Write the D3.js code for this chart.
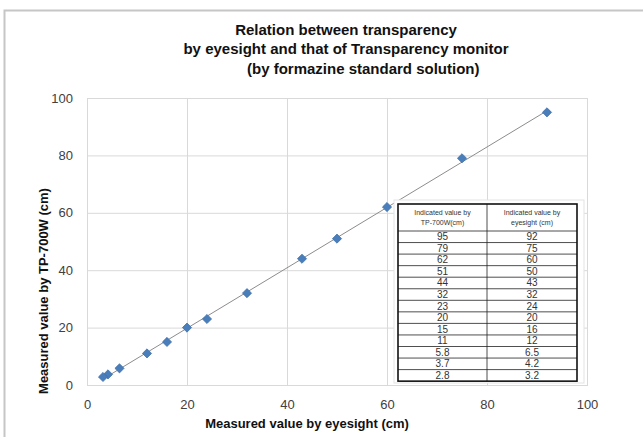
<!DOCTYPE html>
<html>
<head>
<meta charset="utf-8">
<script src="https://cdn.jsdelivr.net/npm/d3@7"></script>
<style>
  body { margin: 0; background: #fff; }
  text { font-family: "Liberation Sans", Arial, sans-serif; }
</style>
</head>
<body>
<svg id="chart"></svg>
<script>
// values
const tpValues = [95, 79, 62, 51, 44, 32, 23, 20, 15, 11, 5.8, 3.7, 2.8];
const eyeValues = [92, 75, 60, 50, 43, 32, 24, 20, 16, 12, 6.5, 4.2, 3.2];
const xTicks = [0, 20, 40, 60, 80, 100];
const yTicks = [0, 20, 40, 60, 80, 100];
const titleLines = ["Relation between transparency", "by eyesight and that of Transparency monitor", "(by formazine standard solution)"];
const tableHeaders = [["Indicated value by", "TP-700W(cm)"], ["Indicated value by", "eyesight (cm)"]];

let svg = d3.select("#chart").attr("width", 643).attr("height", 437);

// outer chart frame
svg.append("rect")
    .attr("x", 4.5).attr("y", 10.5).attr("width", 700).attr("height", 500)
    .attr("fill", "#fff").attr("stroke", "#c6c6c6").attr("stroke-width", 2);

let margin = {top: 98, right: 56, bottom: 52, left: 87},
    width = 643 - margin.left - margin.right,
    height = 437 - margin.top - margin.bottom,
    g = svg.append("g").attr("transform", "translate(" + margin.left + "," + margin.top + ")");

let x = d3.scaleLinear().domain([0, 100]).range([0, width]);
let y = d3.scaleLinear().domain([0, 100]).range([height, 0]);

// grid
g.append("g").selectAll("line").data(xTicks).join("line")
    .attr("x1", d => x(d) + 0.5).attr("x2", d => x(d) + 0.5)
    .attr("y1", 0).attr("y2", height)
    .attr("stroke", "#d9d9d9");
g.append("g").selectAll("line").data(yTicks).join("line")
    .attr("y1", d => y(d) + 0.5).attr("y2", d => y(d) + 0.5)
    .attr("x1", 0).attr("x2", width)
    .attr("stroke", "#d9d9d9");
g.append("rect").attr("x", 0.5).attr("y", 0.5).attr("width", width).attr("height", height)
    .attr("fill", "none").attr("stroke", "#d9d9d9");

// axes labels
let xAxis = g.append("g")
    .attr("transform", "translate(0," + height + ")")
    .call(d3.axisBottom(x).tickValues(xTicks).tickSize(0).tickPadding(15));
let yAxis = g.append("g")
    .call(d3.axisLeft(y).tickValues(yTicks).tickSize(0).tickPadding(14));
[xAxis, yAxis].forEach(a => {
    a.select(".domain").remove();
    a.selectAll("text").attr("font-size", 13).attr("fill", "#404040")
        .attr("font-family", "'Liberation Sans', Arial, sans-serif");
});

// linear trend line
let mx = d3.mean(eyeValues), my = d3.mean(tpValues);
let sxy = d3.sum(eyeValues, (v, i) => (v - mx) * (tpValues[i] - my));
let sxx = d3.sum(eyeValues, v => (v - mx) * (v - mx));
let slope = sxy / sxx, icpt = my - slope * mx;
let ext = d3.extent(eyeValues);
let line = d3.line().x(d => x(d)).y(d => y(slope * d + icpt));
g.append("path")
    .datum(ext)
    .attr("fill", "none")
    .attr("stroke", "#8c8c8c")
    .attr("stroke-width", 1)
    .attr("d", line);

// points
let points = eyeValues.map((v, i) => ({x: v, y: tpValues[i]}));
g.append("g").selectAll("path").data(points).join("path")
    .attr("d", d3.symbol(d3.symbolSquare, 42))
    .attr("transform", d => "translate(" + x(d.x) + "," + y(d.y) + ") rotate(45)")
    .attr("fill", "#4a7ebb")
    .attr("stroke", "#3c6ea8")
    .attr("stroke-width", 0.7);

// table box
let tb = {x: 398, y: 204, w: 179, colX: 487, headH: 27, rowH: 11.55};
svg.append("rect").attr("x", 394).attr("y", 200).attr("width", 190).attr("height", 183)
    .attr("fill", "#fff").attr("stroke", "#e3e3e3");
let tg = svg.append("g");
let tableH = tb.headH + tb.rowH * tpValues.length;
tpValues.forEach((v, i) => {
    let ry = tb.y + tb.headH + tb.rowH * i;
    tg.append("line").attr("x1", tb.x).attr("x2", tb.x + tb.w).attr("y1", ry).attr("y2", ry)
        .attr("stroke", "#222").attr("stroke-width", 0.8);
    [v, eyeValues[i]].forEach((c, j) => {
        tg.append("text")
            .attr("x", j === 0 ? (tb.x + tb.colX) / 2 : (tb.colX + tb.x + tb.w) / 2)
            .attr("y", ry + tb.rowH / 2 + 3.5)
            .attr("text-anchor", "middle").attr("font-size", 10).attr("fill", "#333")
            .text(c);
    });
});
tableHeaders.forEach((hdr, j) => {
    hdr.forEach((t, k) => {
        tg.append("text")
            .attr("x", j === 0 ? (tb.x + tb.colX) / 2 : (tb.colX + tb.x + tb.w) / 2)
            .attr("y", tb.y + 11 + k * 10)
            .attr("text-anchor", "middle").attr("font-size", 7).attr("fill", "#333")
            .text(t);
    });
});
tg.append("line").attr("x1", tb.colX).attr("x2", tb.colX).attr("y1", tb.y).attr("y2", tb.y + tableH)
    .attr("stroke", "#222").attr("stroke-width", 0.8);
tg.append("rect").attr("x", tb.x).attr("y", tb.y).attr("width", tb.w).attr("height", tableH)
    .attr("fill", "none").attr("stroke", "#111").attr("stroke-width", 1.6);

// title
svg.append("text").attr("x", 346).attr("y", 35).attr("text-anchor", "middle")
    .attr("font-size", 15).attr("font-weight", "bold").attr("fill", "#111").text(titleLines[0]);
svg.append("text").attr("x", 346).attr("y", 54).attr("text-anchor", "middle")
    .attr("font-size", 15).attr("font-weight", "bold").attr("fill", "#111").text(titleLines[1]);
svg.append("text").attr("x", 247).attr("y", 74).attr("text-anchor", "start")
    .attr("font-size", 15).attr("font-weight", "bold").attr("fill", "#111").text(titleLines[2]);

// axis titles
svg.append("text").attr("x", 307).attr("y", 428).attr("text-anchor", "middle")
    .attr("font-size", 13).attr("font-weight", "bold").attr("fill", "#111")
    .text("Measured value by eyesight (cm)");
svg.append("text").attr("transform", "translate(48,291) rotate(-90)").attr("text-anchor", "middle")
    .attr("font-size", 13).attr("font-weight", "bold").attr("fill", "#111")
    .text("Measured value by TP-700W (cm)");
</script>
</body>
</html>
